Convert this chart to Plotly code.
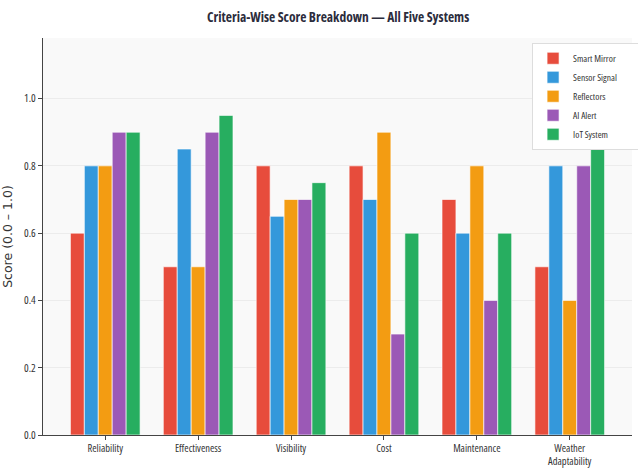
import plotly.graph_objects as go

criteria = ["Reliability", "Effectiveness", "Visibility", "Cost", "Maintenance", "Weather<br>Adaptability"]
systems = ["Smart Mirror", "Sensor Signal", "Reflectors", "AI Alert", "IoT System"]
colors = ["#e74c3c", "#3498db", "#f39c12", "#9b59b6", "#27ae60"]

smart_mirror = [0.6, 0.5, 0.8, 0.8, 0.7, 0.5]
sensor_signal = [0.8, 0.85, 0.65, 0.7, 0.6, 0.8]
reflectors = [0.8, 0.5, 0.7, 0.9, 0.8, 0.4]
ai_alert = [0.9, 0.9, 0.7, 0.3, 0.4, 0.8]
iot_system = [0.9, 0.95, 0.75, 0.6, 0.6, 0.9]
scores = [smart_mirror, sensor_signal, reflectors, ai_alert, iot_system]

y_ticks = [0.0, 0.2, 0.4, 0.6, 0.8, 1.0]

FONT = "Open Sans, DejaVu Sans, sans-serif"

fig = go.Figure()
for name, vals, col in zip(systems, scores, colors):
    fig.add_trace(go.Bar(
        x=criteria, y=vals, name=name,
        marker=dict(color=col, line=dict(color="rgba(255,255,255,0.8)", width=0.8)),
    ))

fig.update_layout(
    width=638, height=468,
    barmode="group", bargap=0.25, bargroupgap=0,
    paper_bgcolor="white", plot_bgcolor="#f9f9f9",
    margin=dict(l=43, r=6, t=38, b=33, autoexpand=False),
    title=dict(
        text="<b>Criteria-Wise Score Breakdown — All Five Systems</b>",
        x=0.53, xanchor="center", y=0.963, yanchor="middle",
        font=dict(family=FONT, size=13.5, color="#2c2c3c"),
    ),
    font=dict(family=FONT, size=11, color="#333333"),
    legend=dict(
        x=1.012, y=0.988, xanchor="right", yanchor="top",
        bgcolor="white", bordercolor="#dddddd", borderwidth=1,
        font=dict(family=FONT, size=9.5, color="#333333"),
        tracegroupgap=0, itemwidth=30,
    ),
    showlegend=True,
)

fig.update_xaxes(
    range=[-0.67, 5.67], showgrid=False, showline=True, linecolor="#444444",
    linewidth=1, ticks="outside", ticklen=4, tickcolor="#444444", automargin=False,
    tickfont=dict(family=FONT, size=10.5, color="#333333"), ticklabelstandoff=-1,
)
fig.update_yaxes(
    range=[0, 1.18], tickvals=y_ticks, ticktext=[f"{v:.1f}" for v in y_ticks],
    showgrid=True, gridcolor="#ececec", gridwidth=1,
    showline=True, linecolor="#444444", linewidth=1, automargin=False,
    ticks="outside", ticklen=4, tickcolor="#444444", zeroline=False,
    tickfont=dict(family=FONT, size=11, color="#333333"),
    title=dict(text="Score (0.0 – 1.0)", standoff=14,
               font=dict(family="DejaVu Sans, sans-serif", size=12.5, color="#333333")),
)

# Narrow (condensed) lettering for every label except the rotated axis title,
# then redraw so the layout measures text with the condensed width.
post = """
var css = document.createElement('style');
css.textContent = 'svg text:not(.ytitle) { font-stretch: 62.5% !important; }';
document.head.appendChild(css);
var gd = document.getElementById('{plot_id}');
Plotly.newPlot(gd, gd.data, gd.layout);
"""
fig.write_html("out.html", post_script=post)
